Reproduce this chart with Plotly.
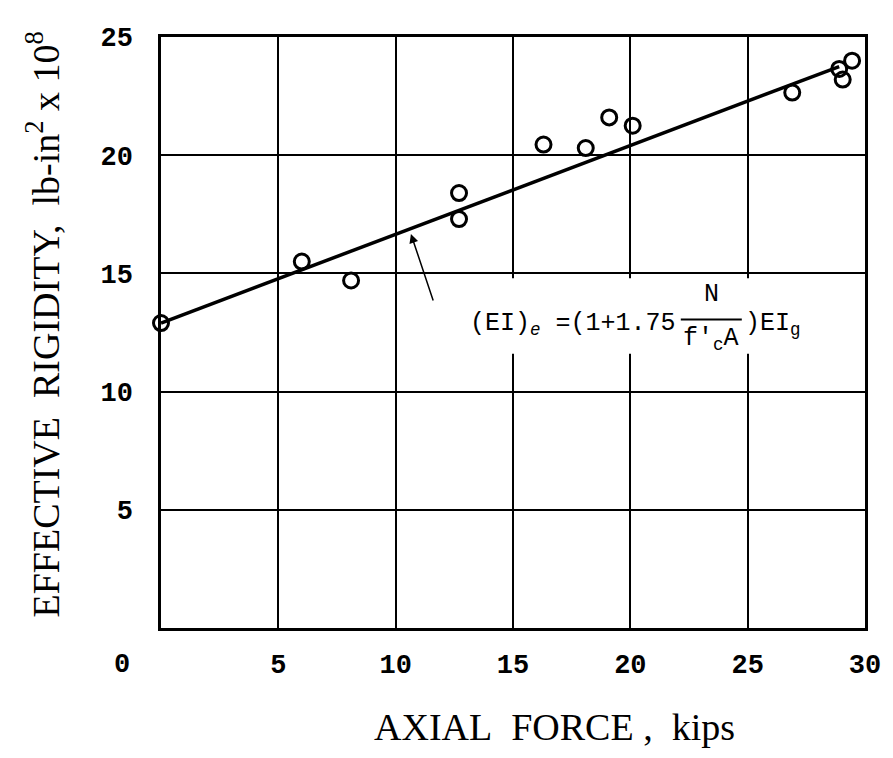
import plotly.graph_objects as go

# Data
axial_force = [0, 6.0, 8.1, 12.7, 12.7, 16.3, 18.1, 19.1, 20.1, 26.9, 28.9, 29.05, 29.45]
rigidity = [12.9, 15.5, 14.7, 17.3, 18.4, 20.45, 20.3, 21.6, 21.25, 22.65, 23.65, 23.2, 24.0]

fit_x = [0, 28.9]
fit_y = [12.9, 23.75]

x_ticks = [5, 10, 15, 20, 25, 30]
y_ticks = [5, 10, 15, 20, 25]

NB = "\u00a0"
fig = go.Figure()

fig.add_trace(go.Scatter(x=fit_x, y=fit_y, mode="lines",
                         line=dict(color="black", width=3.5),
                         showlegend=False, hoverinfo="skip"))
fig.add_trace(go.Scatter(x=axial_force, y=rigidity, mode="markers",
                         marker=dict(symbol="circle-open", size=15, color="black",
                                     line=dict(width=3, color="black")),
                         cliponaxis=False, showlegend=False))

# white box behind formula
fig.add_shape(type="rect", xref="x", yref="y", x0=12.85, x1=28.8, y0=11.6, y1=14.8,
              fillcolor="white", line=dict(width=0), layer="between")
# fraction bar
fig.add_shape(type="line", xref="x", yref="y", x0=22.15, x1=24.75, y0=13.05, y1=13.05,
              line=dict(color="black", width=2))

ffont = dict(family="Liberation Mono", size=25, color="black")
fig.add_annotation(x=13.1, y=12.85, xref="x", yref="y", xanchor="left", yanchor="middle",
                   text="(EI)<sub><i>e</i></sub>" + NB + "=(1+1.75", showarrow=False, font=ffont)
fig.add_annotation(x=23.45, y=14.1, xref="x", yref="y", xanchor="center", yanchor="middle",
                   text="N", showarrow=False, font=ffont)
fig.add_annotation(x=23.45, y=12.2, xref="x", yref="y", xanchor="center", yanchor="middle",
                   text="f'<sub>c</sub>A", showarrow=False, font=ffont)
fig.add_annotation(x=24.8, y=12.85, xref="x", yref="y", xanchor="left", yanchor="middle",
                   text=")EI<sub>g</sub>", showarrow=False, font=ffont)

# arrow pointing at the line
fig.add_annotation(x=10.65, y=16.67, ax=11.62, ay=13.79, xref="x", yref="y",
                   axref="x", ayref="y", text="", showarrow=True,
                   arrowhead=2, arrowsize=1.2, arrowwidth=1.5, arrowcolor="black")

# corner zero label
fig.add_annotation(x=-0.055, y=-0.062, xref="paper", yref="paper", text="0",
                   showarrow=False, xanchor="center", yanchor="middle",
                   font=dict(family="Liberation Mono", size=27, color="black", weight="bold"))

# axis titles
fig.add_annotation(x=-0.168, y=0.513, xref="paper", yref="paper", textangle=-90,
                   text="EFFECTIVE" + NB * 2 + "RIGIDITY," + NB * 2 + "lb-in<sup>2</sup> x 10<sup>8</sup>",
                   showarrow=False, xanchor="center", yanchor="middle",
                   font=dict(family="Liberation Serif", size=38, color="black"))
fig.add_annotation(x=0.559, y=-0.168, xref="paper", yref="paper",
                   text="AXIAL" + NB * 2 + "FORCE" + NB + "," + NB * 2 + "kips",
                   showarrow=False, xanchor="center", yanchor="middle",
                   font=dict(family="Liberation Serif", size=38, color="black"))

tickfont = dict(family="Liberation Mono", size=27, color="black", weight="bold")
fig.update_xaxes(range=[0, 30], tickvals=x_ticks, ticktext=[str(v) for v in x_ticks],
                 showgrid=True, gridcolor="black", gridwidth=2,
                 showline=True, linecolor="black", linewidth=2.5, mirror=True,
                 zeroline=False, ticks="", tickfont=tickfont, ticklabelstandoff=10)
fig.update_yaxes(range=[0, 25], tickvals=y_ticks, ticktext=[str(v) for v in y_ticks],
                 showgrid=True, gridcolor="black", gridwidth=2,
                 showline=True, linecolor="black", linewidth=2.5, mirror=True,
                 zeroline=False, ticks="", tickfont=tickfont, ticklabelstandoff=20)

fig.update_layout(width=893, height=758, margin=dict(l=161, r=25, t=37, b=130),
                  plot_bgcolor="white", paper_bgcolor="white", showlegend=False)

fig.write_html("out.html")
